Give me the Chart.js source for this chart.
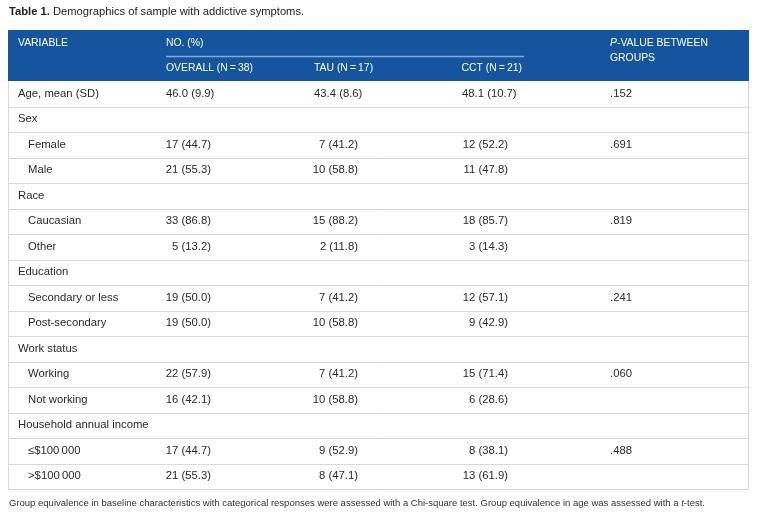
<!DOCTYPE html>
<html>
<head>
<meta charset="utf-8">
<script src="https://cdn.jsdelivr.net/npm/chart.js@4"></script>
<style>
  body { margin: 0; background: #fff; }
  #wrap { width: 758px; height: 518px; }
</style>
</head>
<body>
<div id="wrap"><canvas id="myChart" width="758" height="518"></canvas></div>
<script>
// table contents
var rowLabels = ['Age, mean (SD)', 'Sex', 'Female', 'Male', 'Race', 'Caucasian', 'Other', 'Education',
    'Secondary or less', 'Post-secondary', 'Work status', 'Working', 'Not working',
    'Household annual income', '\u2264$100\u2009000', '>$100\u2009000'];
var subRow = [false, false, true, true, false, true, true, false, true, true, false, true, true, false, true, true];
var overall = ['46.0 (9.9)', '', '17 (44.7)', '21 (55.3)', '', '33 (86.8)', '5 (13.2)', '', '19 (50.0)', '19 (50.0)',
    '', '22 (57.9)', '16 (42.1)', '', '17 (44.7)', '21 (55.3)'];
var tau = ['43.4 (8.6)', '', '7 (41.2)', '10 (58.8)', '', '15 (88.2)', '2 (11.8)', '', '7 (41.2)', '10 (58.8)',
    '', '7 (41.2)', '10 (58.8)', '', '9 (52.9)', '8 (47.1)'];
var cct = ['48.1 (10.7)', '', '12 (52.2)', '11 (47.8)', '', '18 (85.7)', '3 (14.3)', '', '12 (57.1)', '9 (42.9)',
    '', '15 (71.4)', '6 (28.6)', '', '8 (38.1)', '13 (61.9)'];
var pValues = ['.152', '', '.691', '', '', '.819', '', '', '.241', '', '', '.060', '', '', '.488', ''];

var headerTop = ['VARIABLE', 'NO. (%)', 'P-VALUE BETWEEN'];
var headerSub = ['OVERALL (N\u2009=\u200938)', 'TAU (N\u2009=\u200917)', 'CCT (N\u2009=\u200921)', 'GROUPS'];
var titleBold = 'Table 1.';
var titleText = 'Demographics of sample with addictive symptoms.';
var footNote = 'Group equivalence in baseline characteristics with categorical responses were assessed with a Chi-square test. Group equivalence in age was assessed with a ';

// column anchors on the x scale (0 = left edge of table)
var colX = { label: 10, sub: 20, overall: 158, tau: 306, cct: 454, p: 602 };
var colRight = { overall: 203, tau: 350, cct: 500 };

var FONT = '"Liberation Sans", Arial, Helvetica, sans-serif';
var headerBlue = '#1555a0';

function makeData(texts, xLeft, xRight) {
    return texts.map(function (t, i) {
        // the age row sits left aligned, the counts are right aligned
        return { x: (i === 0 || xRight === undefined) ? xLeft : xRight, y: i };
    });
}

var datasets = [
    { label: 'labels', texts: rowLabels, data: rowLabels.map(function (t, i) { return { x: subRow[i] ? colX.sub : colX.label, y: i }; }) },
    { label: 'overall', texts: overall, data: makeData(overall, colX.overall, colRight.overall) },
    { label: 'tau', texts: tau, data: makeData(tau, colX.tau, colRight.tau) },
    { label: 'cct', texts: cct, data: makeData(cct, colX.cct, colRight.cct) },
    { label: 'p', texts: pValues, data: makeData(pValues, colX.p) }
];
datasets.forEach(function (d) { d.pointRadius = 0; d.pointHoverRadius = 0; d.showLine = false; });

var tablePlugin = {
    id: 'tablePlugin',
    beforeDatasetsDraw: function (chart) {
        var ctx = chart.ctx, xs = chart.scales.x, ys = chart.scales.y;
        var left = xs.getPixelForValue(0), right = xs.getPixelForValue(741);
        var top = ys.getPixelForValue(-2.5), hb = ys.getPixelForValue(-0.5), bottom = ys.getPixelForValue(15.5);
        ctx.save();
        // header block
        ctx.fillStyle = headerBlue;
        ctx.fillRect(left, top, right - left, hb - top);
        // line under NO. (%)
        var midY = Math.round(ys.getPixelForValue(-1.5)) + 0.5;
        ctx.strokeStyle = '#8aa9d6';
        ctx.lineWidth = 1.5;
        ctx.beginPath();
        ctx.moveTo(xs.getPixelForValue(colX.overall), midY);
        ctx.lineTo(xs.getPixelForValue(516), midY);
        ctx.stroke();
        // row separators
        ctx.strokeStyle = '#d9d9d9';
        ctx.lineWidth = 1;
        for (var i = 0; i < rowLabels.length; i++) {
            var y = Math.round(ys.getPixelForValue(i + 0.5)) + 0.5;
            ctx.beginPath();
            ctx.moveTo(left, y);
            ctx.lineTo(right, y);
            ctx.stroke();
        }
        // side borders
        ctx.beginPath();
        ctx.moveTo(Math.round(left) + 0.5, hb);
        ctx.lineTo(Math.round(left) + 0.5, bottom);
        ctx.moveTo(Math.round(right) - 0.5, hb);
        ctx.lineTo(Math.round(right) - 0.5, bottom);
        ctx.stroke();

        // header text
        var hf = '10.4px ' + FONT;
        ctx.fillStyle = '#ffffff';
        ctx.font = hf;
        ctx.textBaseline = 'middle';
        ctx.textAlign = 'left';
        var r1 = ys.getPixelForValue(-2), r2 = ys.getPixelForValue(-1);
        ctx.fillText(headerTop[0], xs.getPixelForValue(colX.label), r1);
        ctx.fillText(headerTop[1], xs.getPixelForValue(colX.overall), r1);
        ctx.font = 'italic ' + hf;
        var px = xs.getPixelForValue(colX.p);
        ctx.fillText('P', px, r1);
        var pw = ctx.measureText('P').width;
        ctx.font = hf;
        ctx.fillText(headerTop[2].slice(1), px + pw, r1);
        ctx.fillText(headerSub[3], px, r1 + 15);
        ctx.fillText(headerSub[0], xs.getPixelForValue(colX.overall), r2);
        ctx.fillText(headerSub[1], xs.getPixelForValue(colX.tau), r2);
        ctx.textAlign = 'right';
        ctx.fillText(headerSub[2], xs.getPixelForValue(colRight.cct + 14), r2);

        // title
        ctx.textAlign = 'left';
        ctx.fillStyle = '#222';
        ctx.font = 'bold 11.2px ' + FONT;
        ctx.fillText(titleBold, 9, 12);
        var tw = ctx.measureText(titleBold + ' ').width;
        ctx.font = '11.2px ' + FONT;
        ctx.fillText(titleText, 9 + tw, 12);

        // foot note
        ctx.font = '9.5px ' + FONT;
        ctx.fillStyle = '#333';
        ctx.fillText(footNote, 9, 503);
        var fw = ctx.measureText(footNote).width;
        ctx.font = 'italic 9.5px ' + FONT;
        ctx.fillText('t', 9 + fw, 503);
        var tw2 = ctx.measureText('t').width;
        ctx.font = '9.5px ' + FONT;
        ctx.fillText('-test.', 9 + fw + tw2, 503);
        ctx.restore();
    },
    afterDatasetsDraw: function (chart) {
        var ctx = chart.ctx;
        ctx.save();
        ctx.font = '11.3px ' + FONT;
        ctx.fillStyle = '#2b2b2b';
        ctx.textBaseline = 'middle';
        chart.data.datasets.forEach(function (ds, di) {
            var meta = chart.getDatasetMeta(di);
            meta.data.forEach(function (pt, i) {
                var t = ds.texts[i];
                if (!t) return;
                var rightAligned = (di >= 1 && di <= 3 && i !== 0);
                ctx.textAlign = rightAligned ? 'right' : 'left';
                ctx.fillText(t, pt.x, pt.y);
            });
        });
        ctx.restore();
    }
};

var ctx1 = document.getElementById('myChart').getContext('2d');
var myChart = new Chart(ctx1, {
    type: 'scatter',
    data: { datasets: datasets },
    options: {
        responsive: false,
        animation: false,
        events: [],
        layout: { padding: { top: 30, left: 8, right: 9, bottom: 29 } },
        scales: {
            x: { type: 'linear', min: 0, max: 741, display: false },
            y: { type: 'linear', min: -2.5, max: 15.5, reverse: true, display: false }
        },
        plugins: {
            legend: { display: false },
            tooltip: { enabled: false }
        }
    },
    plugins: [tablePlugin]
});
</script>
</body>
</html>
